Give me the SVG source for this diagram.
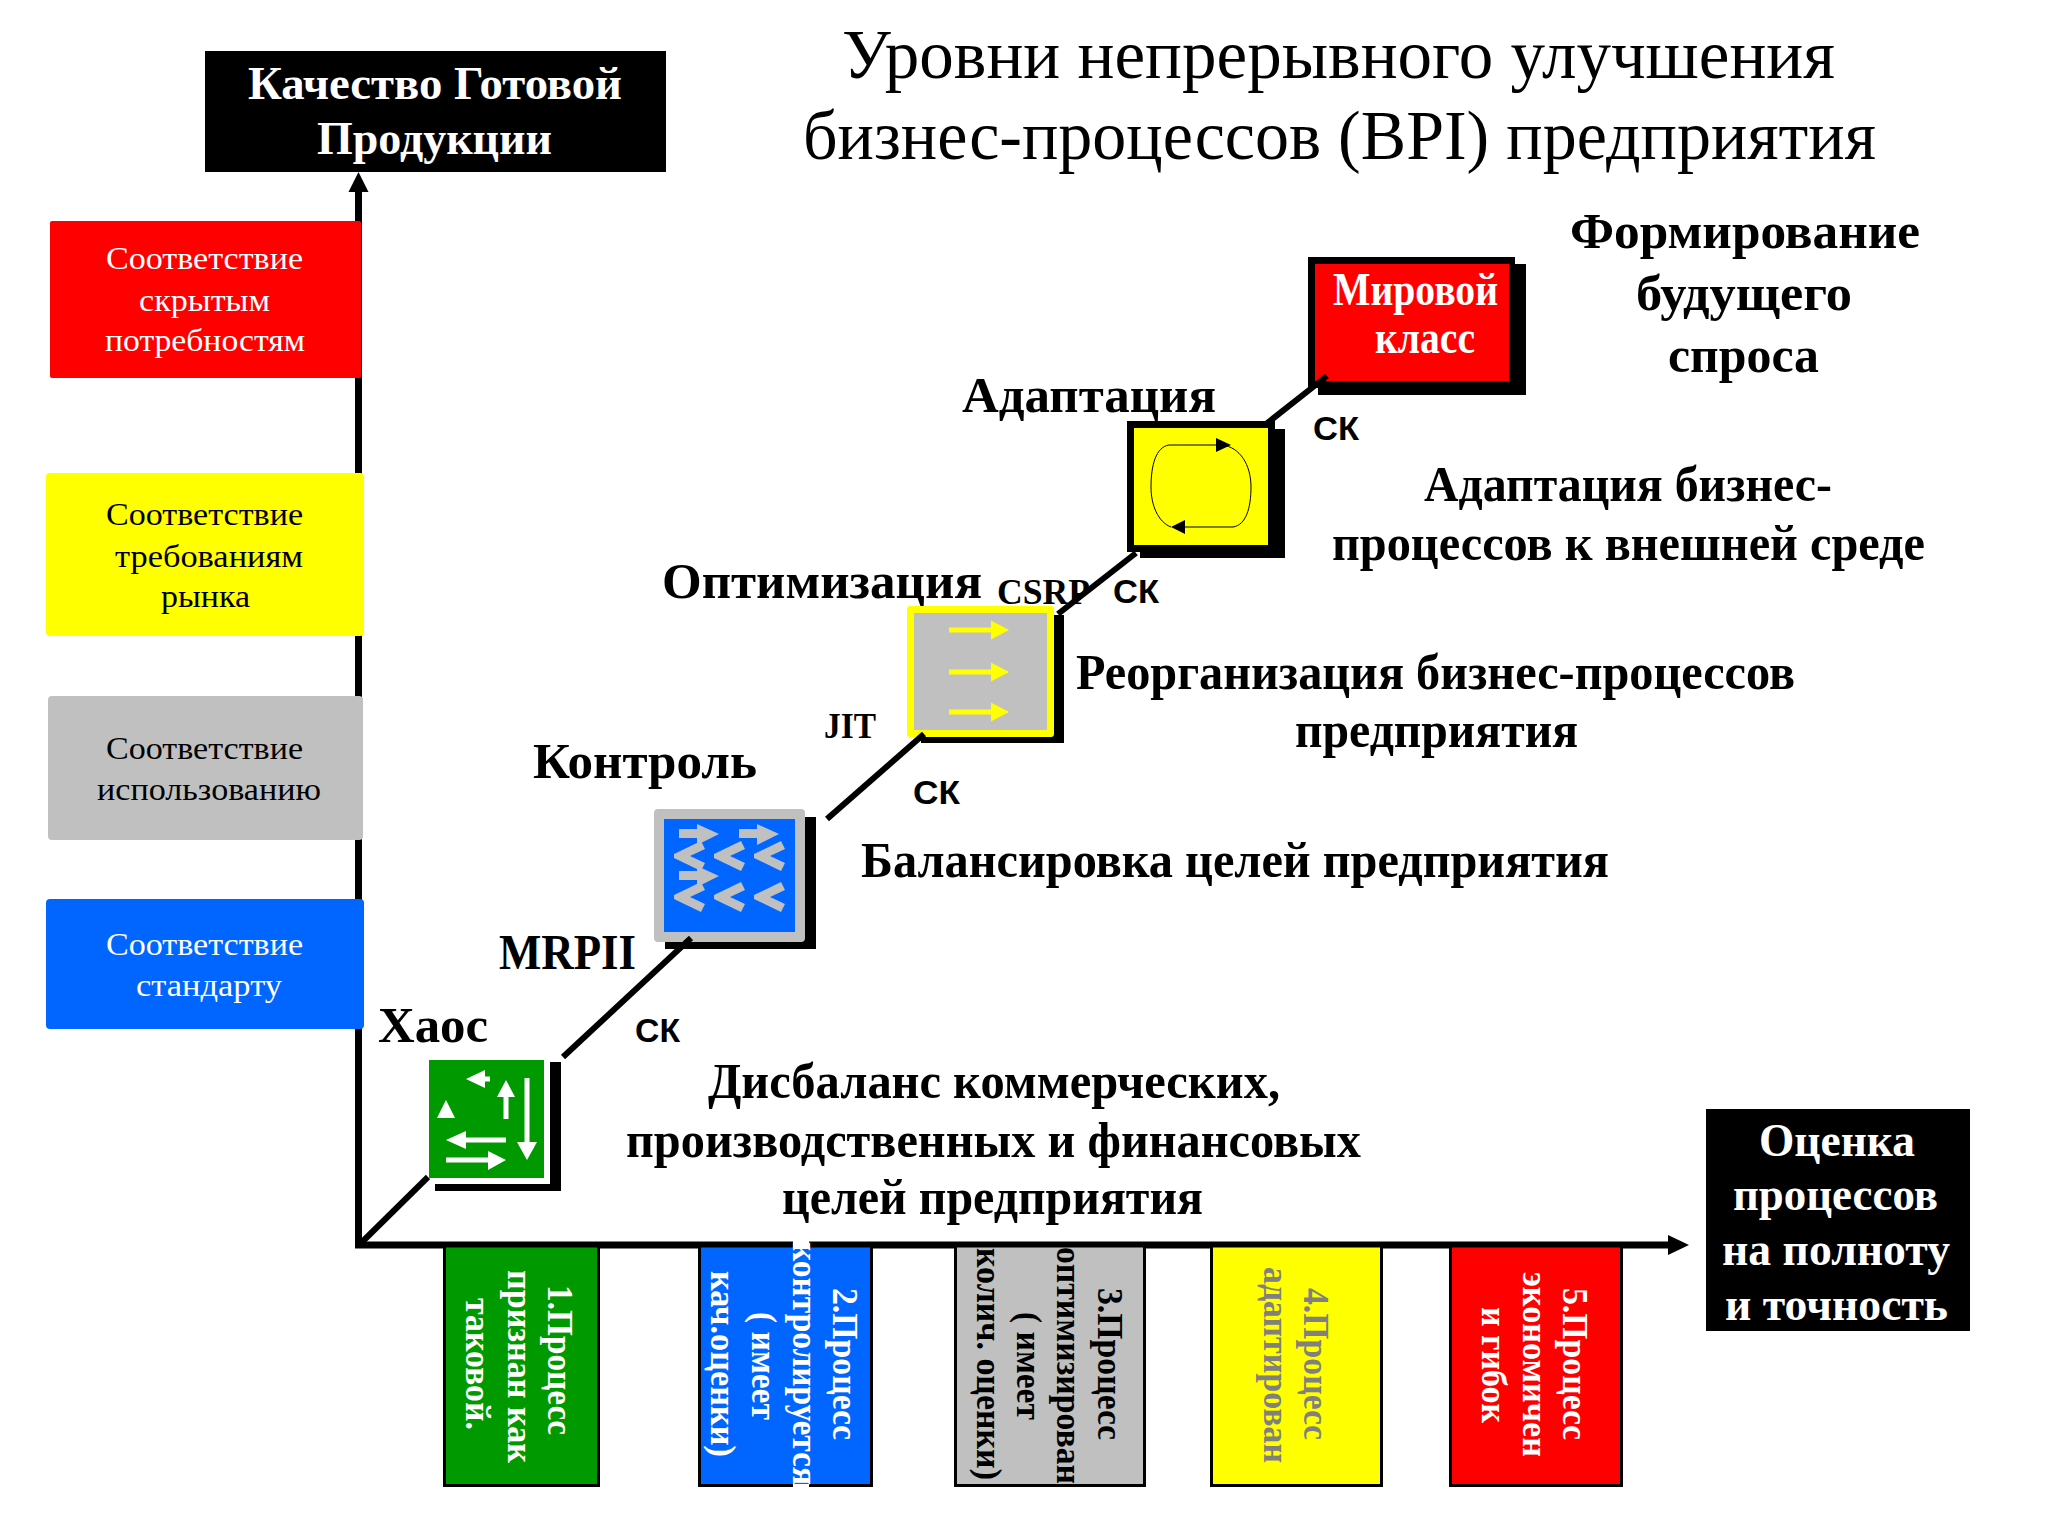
<svg xmlns="http://www.w3.org/2000/svg" width="2048" height="1536" viewBox="0 0 2048 1536">
<style>
text{font-family:"Liberation Serif","Noto Sans CJK SC",serif;font-weight:700;fill:#000}
.t{font-size:69px;font-weight:400}
.h{font-size:51px}
.hw{font-size:46px;fill:#fff}
.l{font-size:32px;font-weight:400}
.w{fill:#fff}
.g{fill:#808080}
.v{font-size:36px}
.ck{font-family:"Liberation Sans","Noto Sans CJK SC",sans-serif;font-size:34px}
.s{font-size:36px}
.ax{stroke:#000;stroke-width:7;fill:none}
.co{stroke:#000;stroke-width:6;fill:none}
.ws{stroke:#fff;stroke-width:5;fill:none}
.gs{fill:#c0c0c0}
.box{stroke:#000;stroke-width:3}
</style>
<defs>
<polygon id="chev" class="gs" points="0,-2 27,-15 31,-7 16,0 31,7 27,15 0,2"/>
<g id="garrow"><rect x="0" y="-5" width="18" height="9" class="gs"/><polygon class="gs" points="18,-10 40,0 18,11"/></g>
<g id="yarrow"><rect x="0" y="-2.5" width="42" height="5" fill="#ff0"/><polygon fill="#ff0" points="42,-9.5 60,0 42,9.5"/></g>
</defs>

<g id="title">
<text class="t" x="842" y="78" textLength="993" lengthAdjust="spacingAndGlyphs">Уровни непрерывного улучшения</text>
<text class="t" x="803" y="159" textLength="1073" lengthAdjust="spacingAndGlyphs">бизнес-процессов (BPI) предприятия</text>
</g>

<g id="axis-y-label"><rect x="205" y="51" width="461" height="121" fill="#000"/>
<text class="hw" x="248" y="99" textLength="374" lengthAdjust="spacingAndGlyphs">Качество Готовой</text>
<text class="hw" x="317" y="154" textLength="235" lengthAdjust="spacingAndGlyphs">Продукции</text></g>

<g id="axis-x-label"><rect x="1706" y="1109" width="264" height="222" fill="#000"/>
<text class="hw" x="1759" y="1156" textLength="156" lengthAdjust="spacingAndGlyphs">Оценка</text>
<text class="hw" x="1733" y="1210" textLength="205" lengthAdjust="spacingAndGlyphs">процессов</text>
<text class="hw" x="1722" y="1265" textLength="228" lengthAdjust="spacingAndGlyphs">на полноту</text>
<text class="hw" x="1725" y="1320" textLength="223" lengthAdjust="spacingAndGlyphs">и точность</text></g>

<g id="axes">
<line class="ax" x1="358.500" y1="190" x2="358.500" y2="1248"/>
<polygon points="358.500,172 348.500,192 368.500,192" fill="#000"/>
<line class="ax" x1="355" y1="1245" x2="1670" y2="1245"/>
<polygon points="1689,1245 1668,1235 1668,1255" fill="#000"/>
</g>

<g id="level-labels">
<text class="s" x="997" y="604" textLength="93" lengthAdjust="spacingAndGlyphs">CSRP</text>
<text class="s" x="824" y="738" textLength="52" lengthAdjust="spacingAndGlyphs">JIT</text>
<text class="h" x="499" y="969" textLength="137" lengthAdjust="spacingAndGlyphs">MRPII</text>
<text class="h" x="378" y="1042" textLength="110" lengthAdjust="spacingAndGlyphs">Хаос</text>
<text class="h" x="533" y="778" textLength="224" lengthAdjust="spacingAndGlyphs">Контроль</text>
<text class="h" x="662" y="598" textLength="320" lengthAdjust="spacingAndGlyphs">Оптимизация</text>
<text class="h" x="962" y="412" textLength="254" lengthAdjust="spacingAndGlyphs">Адаптация</text>
<text class="ck" x="635" y="1042" textLength="45" lengthAdjust="spacingAndGlyphs">СК</text>
<text class="ck" x="913" y="804" textLength="47" lengthAdjust="spacingAndGlyphs">СК</text>
<text class="ck" x="1113" y="603" textLength="46" lengthAdjust="spacingAndGlyphs">СК</text>
<text class="ck" x="1313" y="440" textLength="46" lengthAdjust="spacingAndGlyphs">СК</text>
</g>

<g id="node-chaos">
<rect x="550" y="1062" width="11" height="129" fill="#000"/><rect x="435" y="1184" width="126" height="7" fill="#000"/>
<rect x="429" y="1060" width="115" height="118" fill="#009900"/>
<path class="ws" d="M490 1079H480M506 1119V1095M527 1078V1144M506 1140H464M446 1160H490"/>
<g fill="#fff">
<polygon points="466,1079 485,1070 485,1088"/>
<polygon points="506,1080 497,1097 515,1097"/>
<polygon points="527,1160 517,1142 537,1142"/>
<polygon points="446,1100 437,1118 455,1118"/>
<polygon points="446,1140 466,1131 466,1149"/>
<polygon points="506,1160 488,1151 488,1170"/>
</g>
</g>

<g id="node-control">
<rect x="665" y="817" width="151" height="132" fill="#000"/>
<rect x="654" y="809" width="151" height="133" rx="4" fill="#c0c0c0"/>
<rect x="664" y="819" width="131" height="113" fill="#0066ff"/>
<use href="#garrow" x="679" y="834"/><use href="#garrow" x="739" y="834"/><use href="#garrow" x="679" y="876"/>
<use href="#chev" x="674" y="856"/><use href="#chev" x="714" y="856"/><use href="#chev" x="754" y="856"/>
<use href="#chev" x="674" y="897"/><use href="#chev" x="714" y="897"/><use href="#chev" x="754" y="897"/>
</g>

<g id="node-optimize">
<rect x="921" y="615" width="143" height="128" fill="#000"/>
<rect x="907" y="606" width="147" height="131" rx="3" fill="#ff0"/>
<rect x="914" y="613" width="133" height="117" fill="#c0c0c0"/>
<use href="#yarrow" x="949" y="630"/><use href="#yarrow" x="949" y="672"/><use href="#yarrow" x="949" y="712"/>
</g>

<g id="node-adapt">
<rect x="1140" y="429" width="145" height="129" fill="#000"/>
<rect x="1127" y="421" width="148" height="131" fill="#000"/>
<rect x="1134" y="428" width="134" height="117" fill="#ff0"/>
<path fill="none" stroke="#000" stroke-width="1" d="M1169 445H1222C1240 447 1251 465 1251 487C1251 508 1246 525 1233 527H1185M1171 527C1158 522 1151 505 1151 487C1151 465 1156 447 1169 445"/>
<polygon points="1231,445 1216,438 1216,452" fill="#000"/>
<polygon points="1171,527 1185,520 1185,534" fill="#000"/>
</g>

<g id="node-world">
<rect x="1318" y="264" width="208" height="131" fill="#000"/>
<rect x="1308" y="257" width="207" height="131" fill="#000"/>
<rect x="1315" y="264" width="194" height="117" fill="#f00"/>
<text class="hw" x="1333" y="305" textLength="165" lengthAdjust="spacingAndGlyphs">Мировой</text>
<text class="hw" x="1375" y="353" textLength="100" lengthAdjust="spacingAndGlyphs">класс</text>
</g>

<g id="connectors">
<line class="co" x1="358" y1="1246" x2="428" y2="1177"/>
<line class="co" x1="563" y1="1057" x2="691" y2="938"/>
<line class="co" x1="827" y1="819" x2="924" y2="734"/>
<line class="co" x1="1058" y1="614" x2="1136" y2="553"/>
<line class="co" x1="1266" y1="424" x2="1327" y2="376"/>
</g>

<g id="descriptions">
<text class="h" x="1570" y="248" textLength="350" lengthAdjust="spacingAndGlyphs">Формирование</text>
<text class="h" x="1636" y="310" textLength="216" lengthAdjust="spacingAndGlyphs">будущего</text>
<text class="h" x="1668" y="372" textLength="151" lengthAdjust="spacingAndGlyphs">спроса</text>
<text class="h" x="1424" y="501" textLength="408" lengthAdjust="spacingAndGlyphs">Адаптация бизнес-</text>
<text class="h" x="1332" y="560" textLength="593" lengthAdjust="spacingAndGlyphs">процессов к внешней среде</text>
<text class="h" x="1076" y="689" textLength="719" lengthAdjust="spacingAndGlyphs">Реорганизация бизнес-процессов</text>
<text class="h" x="1295" y="747" textLength="283" lengthAdjust="spacingAndGlyphs">предприятия</text>
<text class="h" x="861" y="877" textLength="748" lengthAdjust="spacingAndGlyphs">Балансировка целей предприятия</text>
<text class="h" x="708" y="1098" textLength="572" lengthAdjust="spacingAndGlyphs">Дисбаланс коммерческих,</text>
<text class="h" x="626" y="1157" textLength="735" lengthAdjust="spacingAndGlyphs">производственных и финансовых</text>
<text class="h" x="782" y="1214" textLength="421" lengthAdjust="spacingAndGlyphs">целей предприятия</text>
</g>

<g id="req-red"><rect x="50" y="221" width="311" height="157" rx="2" fill="#f00"/>
<text class="l w" x="106" y="269" textLength="197" lengthAdjust="spacingAndGlyphs">Соответствие</text>
<text class="l w" x="139" y="311" textLength="131" lengthAdjust="spacingAndGlyphs">скрытым</text>
<text class="l w" x="105" y="351" textLength="200" lengthAdjust="spacingAndGlyphs">потребностям</text></g>
<g id="req-yellow"><rect x="46" y="473" width="318" height="163" rx="4" fill="#ff0"/>
<text class="l" x="106" y="525" textLength="197" lengthAdjust="spacingAndGlyphs">Соответствие</text>
<text class="l" x="115" y="567" textLength="188" lengthAdjust="spacingAndGlyphs">требованиям</text>
<text class="l" x="161" y="607" textLength="89" lengthAdjust="spacingAndGlyphs">рынка</text></g>
<g id="req-gray"><rect x="48" y="696" width="315" height="144" rx="4" fill="#c0c0c0"/>
<text class="l" x="106" y="759" textLength="197" lengthAdjust="spacingAndGlyphs">Соответствие</text>
<text class="l" x="97" y="800" textLength="224" lengthAdjust="spacingAndGlyphs">использованию</text></g>
<g id="req-blue"><rect x="46" y="899" width="318" height="130" rx="4" fill="#0066ff"/>
<text class="l w" x="106" y="955" textLength="197" lengthAdjust="spacingAndGlyphs">Соответствие</text>
<text class="l w" x="136" y="996" textLength="146" lengthAdjust="spacingAndGlyphs">стандарту</text></g>

<g id="stage-1"><rect class="box" x="444.500" y="1246" width="154" height="239.500" fill="#009900"/>
<text class="v w" transform="translate(548,1285) rotate(90)" textLength="150" lengthAdjust="spacingAndGlyphs">1.Процесс</text>
<text class="v w" transform="translate(508,1270) rotate(90)" textLength="193" lengthAdjust="spacingAndGlyphs">признан как</text>
<text class="v w" transform="translate(466,1298) rotate(90)" textLength="132" lengthAdjust="spacingAndGlyphs">таковой.</text></g>

<g id="stage-2"><rect class="box" x="699.500" y="1246" width="172" height="239.500" fill="#0066ff"/>
<rect x="793" y="1241" width="16" height="7" fill="#fff"/><rect x="793" y="1484" width="16" height="3" fill="#fff"/>
<text class="v w" transform="translate(833,1288) rotate(90)" textLength="152" lengthAdjust="spacingAndGlyphs">2.Процесс</text>
<text class="v w" transform="translate(793,1242) rotate(90)" textLength="243" lengthAdjust="spacingAndGlyphs">контролируется</text>
<text class="v w" transform="translate(752,1312) rotate(90)" textLength="108" lengthAdjust="spacingAndGlyphs">( имеет</text>
<text class="v w" transform="translate(711,1271) rotate(90)" textLength="186" lengthAdjust="spacingAndGlyphs">кач.оценки)</text></g>

<g id="stage-3"><rect class="box" x="955.500" y="1246" width="189" height="239.500" fill="#c0c0c0"/>
<text class="v" transform="translate(1098,1288) rotate(90)" textLength="152" lengthAdjust="spacingAndGlyphs">3.Процесс</text>
<text class="v" transform="translate(1057,1247) rotate(90)" textLength="237" lengthAdjust="spacingAndGlyphs">оптимизирован</text>
<text class="v" transform="translate(1017,1312) rotate(90)" textLength="108" lengthAdjust="spacingAndGlyphs">( имеет</text>
<text class="v" transform="translate(977,1248) rotate(90)" textLength="232" lengthAdjust="spacingAndGlyphs">колич. оценки)</text></g>

<g id="stage-4"><rect class="box" x="1211.500" y="1246" width="170" height="239.500" fill="#ff0"/>
<text class="v g" transform="translate(1304,1288) rotate(90)" textLength="152" lengthAdjust="spacingAndGlyphs">4.Процесс</text>
<text class="v g" transform="translate(1264,1267) rotate(90)" textLength="196" lengthAdjust="spacingAndGlyphs">адаптирован</text></g>

<g id="stage-5"><rect class="box" x="1450.500" y="1246" width="171" height="239.500" fill="#f00"/>
<text class="v w" transform="translate(1563,1288) rotate(90)" textLength="152" lengthAdjust="spacingAndGlyphs">5.Процесс</text>
<text class="v w" transform="translate(1523,1272) rotate(90)" textLength="185" lengthAdjust="spacingAndGlyphs">экономичен</text>
<text class="v w" transform="translate(1482,1307) rotate(90)" textLength="116" lengthAdjust="spacingAndGlyphs">и гибок</text></g>
</svg>
